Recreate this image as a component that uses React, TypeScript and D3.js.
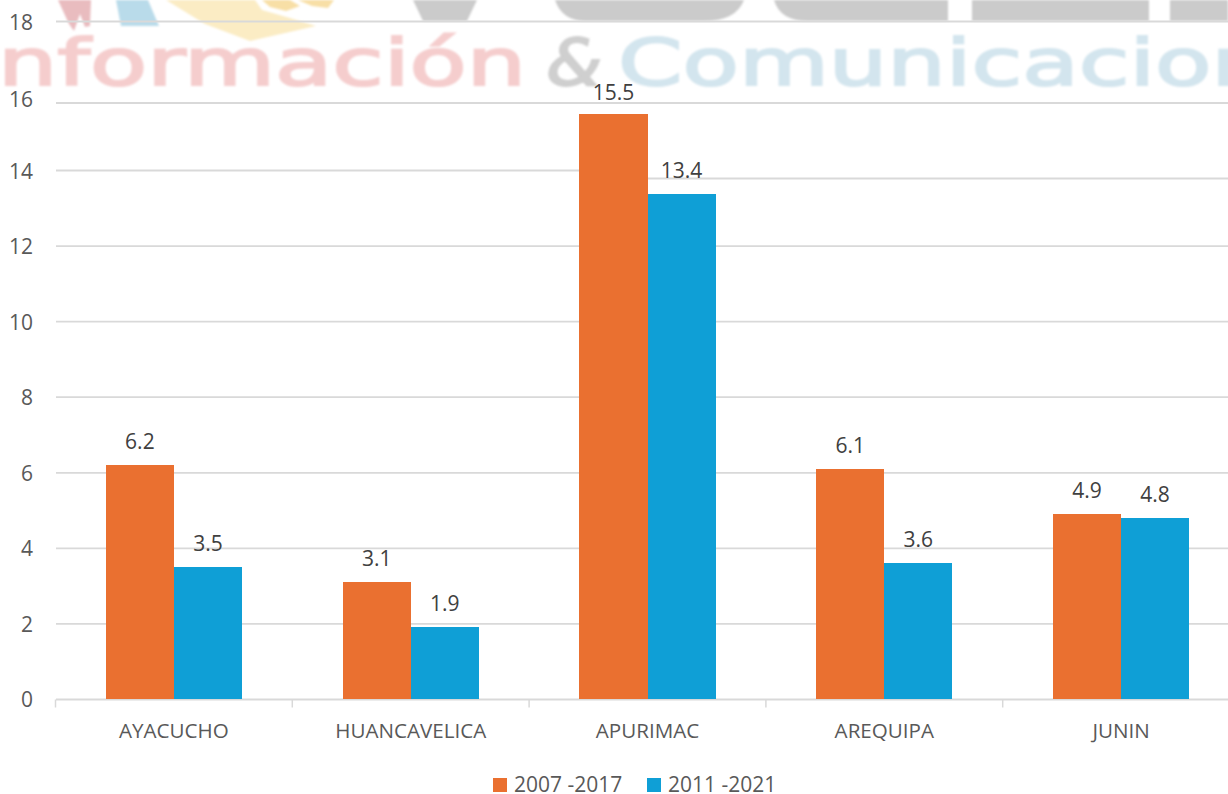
import { useEffect, useRef } from "react";
import * as d3 from "d3";

const categories = ["AYACUCHO", "HUANCAVELICA", "APURIMAC", "AREQUIPA", "JUNIN"];
const seriesNames = ["2007 -2017", "2011 -2021"];
const values2007 = [6.2, 3.1, 15.5, 6.1, 4.9];
const values2011 = [3.5, 1.9, 13.4, 3.6, 4.8];
const yTicks = [0, 2, 4, 6, 8, 10, 12, 14, 16, 18];
const colors = ["#EA7030", "#0F9FD6"];

const width = 1228;
const height = 794;
const font = "'Open Sans', sans-serif";

function App() {
  const ref = useRef<SVGSVGElement>(null);

  useEffect(() => {
    const svg = d3.select(ref.current);
    svg.selectAll("*").remove();

    const x = d3.scaleBand().domain(categories).range([55.5, 1239.5]);
    const xSeries = d3
      .scaleBand()
      .domain(seriesNames)
      .range([0, x.bandwidth()])
      .paddingInner(0)
      .paddingOuter(0.74);
    const y = d3.scaleLinear().domain([0, 18]).range([699, 20]);
    // the top of the source picture was pasted over, so the upper gridlines sit off the bar scale
    const yGrid = d3.scaleLinear().domain([0, 14, 16, 18]).range([699.5, 170.5, 103, 21.5]);
    const yLabel = d3.scaleLinear().domain([0, 14, 16, 18]).range([699.5, 171, 99, 22]);

    // watermark behind the chart
    const defs = svg.append("defs");
    defs
      .append("filter")
      .attr("id", "soft")
      .append("feGaussianBlur")
      .attr("stdDeviation", 0.9);

    const mark = svg.append("g").attr("filter", "url(#soft)");
    const shapes = [
      { d: "M58,0 L91,0 L90,26 L85,27 L80,14 L74,31 L69,24 Z", fill: "#e9bcbf" },
      { d: "M116,0 L148,0 L159,26 L121,26 Z", fill: "#b9dbea" },
      { d: "M166,0 L255,0 L262,10 L290,18 L316,26 L250,41 L205,24 Z", fill: "#fbecc4" },
      { d: "M262,0 L290,0 L300,6 L286,11 L270,7 Z M298,0 L334,0 L328,8 L312,6 Z", fill: "#f8dfa6" },
      { d: "M413,0 L477,0 L467,21 L423,21 Z", fill: "#cbcbcb" },
      { d: "M555,0 L744,0 Q736,21 704,21 L586,21 Q562,21 555,0 Z", fill: "#cbcbcb" },
      { d: "M774,0 L948,0 L948,21 L808,21 Q780,21 774,0 Z", fill: "#cbcbcb" },
      { d: "M972,0 L1149,0 L1149,21 L972,21 Z", fill: "#cbcbcb" },
      { d: "M1170,0 L1228,0 L1228,21 L1170,21 Z", fill: "#cbcbcb" },
    ];
    mark
      .selectAll("path")
      .data(shapes)
      .join("path")
      .attr("d", (d) => d.d)
      .attr("fill", (d) => d.fill);

    const words = [
      { text: "nformación", x: -2, len: 528, fill: "#f5cdcd", style: "normal" },
      { text: "&", x: 546, len: 56, fill: "#cfcfcf", style: "italic" },
      { text: "Comunicacion", x: 618, len: 652, fill: "#d3e5ee", style: "normal" },
    ];
    mark
      .selectAll("text")
      .data(words)
      .join("text")
      .attr("x", (d) => d.x)
      .attr("y", 85)
      .attr("textLength", (d) => d.len)
      .attr("lengthAdjust", "spacingAndGlyphs")
      .attr("font-family", "'DejaVu Sans', sans-serif")
      .attr("font-size", 64)
      .attr("font-style", (d) => d.style)
      .attr("fill", (d) => d.fill)
      .attr("stroke", (d) => d.fill)
      .attr("stroke-width", 2)
      .text((d) => d.text);

    // gridlines
    const gridTicks = yTicks.filter((t) => t > 0);
    svg
      .append("g")
      .selectAll("line")
      .data(gridTicks)
      .join("line")
      .attr("x1", 56)
      .attr("x2", (d) => (d === 14 ? x("APURIMAC")! + 60 : width))
      .attr("y1", (d) => yGrid(d))
      .attr("y2", (d) => yGrid(d))
      .attr("stroke", "#D9D9D9")
      .attr("stroke-width", 1.8);
    // right part of the 14 line is lower than the left part
    svg
      .append("line")
      .attr("x1", x("APURIMAC")! + x.bandwidth() / 2)
      .attr("x2", width)
      .attr("y1", 178.5)
      .attr("y2", 178.5)
      .attr("stroke", "#D9D9D9")
      .attr("stroke-width", 1.8);

    // x axis
    const xAxis = svg.append("g");
    xAxis
      .append("line")
      .attr("x1", 56)
      .attr("x2", width)
      .attr("y1", 699.5)
      .attr("y2", 699.5)
      .attr("stroke", "#D9D9D9")
      .attr("stroke-width", 1.8);
    const edges = [...categories.map((c) => x(c)!), x.range()[1]];
    xAxis
      .selectAll("line.tick")
      .data(edges)
      .join("line")
      .attr("class", "tick")
      .attr("x1", (d) => d)
      .attr("x2", (d) => d)
      .attr("y1", 699.5)
      .attr("y2", 707.5)
      .attr("stroke", "#D9D9D9")
      .attr("stroke-width", 1.5);
    xAxis
      .selectAll("text")
      .data(categories)
      .join("text")
      .attr("x", (d) => x(d)! + x.bandwidth() / 2)
      .attr("y", 738)
      .attr("text-anchor", "middle")
      .attr("font-family", font)
      .attr("font-size", 20.6)
      .attr("fill", "#595959")
      .text((d) => d);

    // y labels
    svg
      .append("g")
      .selectAll("text")
      .data(yTicks)
      .join("text")
      .attr("x", 33)
      .attr("y", (d) => yLabel(d) + 7.5)
      .attr("text-anchor", "end")
      .attr("font-family", font)
      .attr("font-size", 21)
      .attr("fill", "#595959")
      .text((d) => d);

    // bars and data labels
    [values2007, values2011].forEach((values, i) => {
      const name = seriesNames[i];
      const g = svg.append("g");
      g.selectAll("rect")
        .data(values)
        .join("rect")
        .attr("x", (_, j) => x(categories[j])! + xSeries(name)!)
        .attr("y", (d) => y(d))
        .attr("width", xSeries.bandwidth())
        .attr("height", (d) => y(0) - y(d))
        .attr("fill", colors[i])
        .attr("shape-rendering", "crispEdges");
      g.selectAll("text")
        .data(values)
        .join("text")
        .attr("x", (_, j) => x(categories[j])! + xSeries(name)! + xSeries.bandwidth() / 2)
        .attr("y", (d) => y(d) - (d > 15 ? 14.5 : 16))
        .attr("text-anchor", "middle")
        .attr("font-family", font)
        .attr("font-size", 21)
        .attr("fill", "#404040")
        .text((d) => d.toFixed(1));
    });

    // legend
    const legendX = d3.scaleOrdinal<string, number>().domain(seriesNames).range([493, 647]);
    const legend = svg
      .append("g")
      .selectAll("g")
      .data(seriesNames)
      .join("g")
      .attr("transform", (d) => `translate(${legendX(d)},778)`);
    legend
      .append("rect")
      .attr("width", 14)
      .attr("height", 14)
      .attr("fill", (_, i) => colors[i]);
    legend
      .append("text")
      .attr("x", 21)
      .attr("y", 14)
      .attr("font-family", font)
      .attr("font-size", 21)
      .attr("fill", "#595959")
      .text((d) => d);
  }, []);

  return (
    <svg
      ref={ref}
      width={width}
      height={height}
      style={{ position: "absolute", left: 0, top: 0, display: "block", background: "#fff" }}
    />
  );
}

export default App;
